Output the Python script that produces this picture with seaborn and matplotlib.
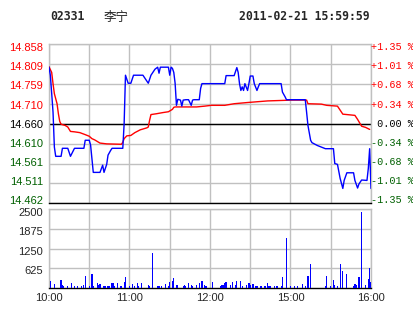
import numpy as np
import pandas as pd
import matplotlib
matplotlib.use("Agg")
import matplotlib.pyplot as plt
import matplotlib.transforms as mtransforms
import seaborn as sns

# ---------------- data ----------------
stock_code = "02331"
stock_name = "李宁"
stamp = "2011-02-21 15:59:59"
prev_close = 14.660
price_low, price_high = 14.462, 14.858

left_labels = ["14.462", "14.511", "14.561", "14.610", "14.660",
               "14.710", "14.759", "14.809", "14.858"]
right_labels = ["-1.35 %", "-1.01 %", "-0.68 %", "-0.34 %", " 0.00 %",
                "+0.34 %", "+0.68 %", "+1.01 %", "+1.35 %"]
time_labels = {0: "10:00", 60: "11:00", 120: "12:00", 180: "15:00", 240: "16:00"}
vol_labels = ["625", "1250", "1875", "2500"]
vol_ticks = [625, 1250, 1875, 2500]

price_min = [0, 1, 2, 3, 4, 5, 9, 10, 14, 16, 19, 26, 27, 30, 31, 33, 38, 40, 41, 43,
             44, 46, 47, 55, 56, 57, 59, 61, 63, 70, 74, 76, 79, 81, 82, 83, 89, 90,
             91, 92, 93, 94, 95, 96, 98, 99, 100, 102, 104, 106, 107, 108, 112, 113,
             114, 131, 132, 138, 140, 141, 142, 143, 144, 145, 146, 148, 149, 150,
             152, 153, 155, 156, 157, 173, 174, 176, 177, 191, 192, 193, 195, 196,
             200, 206, 212, 213, 215, 217, 219, 220, 222, 227, 228, 230, 231, 233,
             237, 238, 239, 240]
price_val = [14.801, 14.781, 14.736, 14.689, 14.602, 14.579, 14.579, 14.599, 14.599,
             14.579, 14.599, 14.599, 14.619, 14.619, 14.607, 14.539, 14.539, 14.557,
             14.539, 14.559, 14.582, 14.594, 14.599, 14.599, 14.660, 14.781, 14.761,
             14.761, 14.781, 14.781, 14.761, 14.781, 14.796, 14.801, 14.786, 14.801,
             14.801, 14.781, 14.801, 14.798, 14.788, 14.761, 14.706, 14.721, 14.719,
             14.704, 14.719, 14.720, 14.720, 14.706, 14.719, 14.720, 14.720, 14.748,
             14.760, 14.760, 14.780, 14.780, 14.800, 14.788, 14.760, 14.743, 14.752,
             14.743, 14.760, 14.743, 14.760, 14.779, 14.779, 14.760, 14.743, 14.752,
             14.760, 14.760, 14.739, 14.727, 14.720, 14.720, 14.689, 14.656, 14.619,
             14.613, 14.606, 14.598, 14.598, 14.561, 14.559, 14.524, 14.499, 14.519,
             14.538, 14.538, 14.519, 14.500, 14.510, 14.520, 14.519, 14.549, 14.598,
             14.499]

avg_min = [0, 2, 3, 4, 6, 7, 8, 9, 12, 14, 16, 19, 23, 27, 30, 32, 34, 38, 43, 54,
           55, 56, 58, 61, 64, 68, 73, 74, 75, 76, 80, 85, 89, 92, 93, 94, 110, 116,
           121, 131, 138, 148, 163, 181, 192, 193, 203, 207, 215, 217, 219, 228, 230,
           233, 236, 239]
avg_val = [14.802, 14.788, 14.760, 14.735, 14.710, 14.685, 14.666, 14.659, 14.656,
           14.652, 14.641, 14.640, 14.638, 14.633, 14.629, 14.623, 14.620, 14.612,
           14.610, 14.609, 14.614, 14.623, 14.630, 14.631, 14.638, 14.645, 14.650,
           14.652, 14.669, 14.683, 14.685, 14.688, 14.690, 14.696, 14.701, 14.702,
           14.702, 14.704, 14.706, 14.706, 14.710, 14.713, 14.717, 14.719, 14.719,
           14.710, 14.709, 14.706, 14.704, 14.694, 14.684, 14.681, 14.671, 14.654,
           14.651, 14.646]

vol_min = [1, 4, 9, 10, 11, 14, 17, 19, 21, 24, 26, 27, 30, 32, 33, 36, 37, 38, 41, 42,
           44, 45, 47, 48, 49, 51, 53, 54, 56, 57, 60, 62, 64, 66, 67, 69, 74, 75, 77,
           81, 82, 84, 87, 89, 90, 92, 93, 95, 96, 100, 101, 102, 104, 106, 107, 110,
           112, 114, 116, 117, 122, 128, 129, 130, 131, 132, 135, 137, 139, 140, 143,
           144, 147, 149, 150, 152, 154, 155, 158, 161, 163, 164, 165, 168, 170, 173,
           174, 177, 180, 183, 185, 189, 191, 193, 195, 206, 207, 210, 212, 213, 215,
           217, 219, 222, 227, 228, 229, 231, 233, 236, 238, 239, 240]
vol_val = [232, 137, 264, 105, 74, 74, 158, 74, 74, 74, 105, 390, 74, 454, 74, 158,
           105, 127, 74, 74, 74, 74, 158, 158, 74, 158, 74, 74, 211, 348, 74, 127, 74,
           158, 74, 158, 105, 74, 1108, 74, 74, 74, 137, 74, 211, 232, 316, 105, 105,
           74, 105, 74, 158, 105, 74, 105, 179, 232, 105, 74, 200, 74, 105, 105, 158,
           200, 105, 200, 105, 232, 232, 74, 105, 158, 105, 127, 74, 74, 74, 74, 158,
           74, 74, 74, 74, 74, 348, 1582, 74, 74, 74, 127, 74, 390, 770, 74, 390, 74,
           264, 105, 74, 770, 548, 454, 74, 127, 105, 348, 2416, 105, 295, 633, 211]

# ---------------- style ----------------
sns.set_style("white")
plt.rcParams["font.family"] = ["Liberation Sans", "DejaVu Sans"]

RED = "#ff0000"
GREEN = "#006000"
BLUE = "#0000ff"
GRID = "#c0c0c0"

W, H = 414, 314
fig = plt.figure(figsize=(W / 100, H / 100), dpi=100)
fig.patch.set_facecolor("white")

def rect(l, t, r, b):
    return [l / W, 1 - b / H, (r - l) / W, (b - t) / H]

def shift(px):
    return mtransforms.ScaledTranslation(0, px / 100, fig.dpi_scale_trans)

ax = fig.add_axes(rect(49, 44.3, 371, 203.3))
axv = fig.add_axes(rect(49, 209, 371, 288.3))

price_df = pd.DataFrame({"minute": price_min, "price": price_val})
avg_df = pd.DataFrame({"minute": avg_min, "avg": avg_val})
vol_df = pd.DataFrame({"minute": vol_min, "vol": vol_val})

xt = list(range(0, 241, 30))
xlab = [time_labels.get(m, "") for m in xt]

# ---- price panel ----
yt = np.linspace(price_low, price_high, 9)
for v in yt:
    ax.axhline(v, color=GRID, lw=1, zorder=0)
for m in xt:
    ax.axvline(m, color=GRID, lw=1, zorder=0)
ax.axhline(prev_close, color="black", lw=1, zorder=1)

sns.lineplot(data=avg_df, x="minute", y="avg", color=RED, lw=1.0, ax=ax,
             estimator=None, sort=False, zorder=3)
sns.lineplot(data=price_df, x="minute", y="price", color=BLUE, lw=1.0, ax=ax,
             estimator=None, sort=False, zorder=4)

ax.set_xlim(0, 240)
ax.set_ylim(price_low, price_high)
ax.set_xticks(xt)
ax.set_xticklabels([])
ax.set_yticks(yt)
ax.set_yticklabels(left_labels)
ax.set_xlabel("")
ax.set_ylabel("")
ax.tick_params(axis="both", length=0, pad=4.5)
ax.tick_params(axis="y", labelsize=8)

# labels spread slightly tighter than grid lines (as in the reference)
offs = [3.3 - 6.3 * j / 8 for j in range(9)]
for j, lab in enumerate(ax.get_yticklabels()):
    lab.set_color(GREEN if j < 4 else ("black" if j == 4 else RED))
    lab.set_transform(lab.get_transform() + shift(offs[j]))

bt = mtransforms.blended_transform_factory(ax.transAxes, ax.transData)
for j, (v, t) in enumerate(zip(yt, right_labels)):
    c = GREEN if j < 4 else ("black" if j == 4 else RED)
    ax.text(1.0, v, t, transform=bt + shift(offs[j]), ha="left", va="center", color=c,
            fontsize=7.3, family=["Liberation Mono", "DejaVu Sans Mono"], clip_on=False)

for s in ["top", "left", "right"]:
    ax.spines[s].set_color(GRID)
    ax.spines[s].set_linewidth(1)
ax.spines["bottom"].set_color("black")
ax.spines["bottom"].set_linewidth(1)

# ---- volume panel ----
for v in vol_ticks:
    axv.axhline(v, color=GRID, lw=1, zorder=0)
for m in xt:
    axv.axvline(m, color=GRID, lw=1, zorder=0)
sns.barplot(data=vol_df, x="minute", y="vol", native_scale=True, color=BLUE,
            saturation=1, width=0.9, linewidth=0, errorbar=None, ax=axv, zorder=3)
for p in axv.patches:
    p.set_antialiased(False)
axv.set_xlim(0, 240)
axv.set_ylim(0, 2500)
axv.set_xticks(xt)
axv.set_xticklabels(xlab)
axv.set_yticks(vol_ticks)
axv.set_yticklabels(vol_labels)
axv.set_xlabel("")
axv.set_ylabel("")
axv.tick_params(axis="both", length=0, labelsize=8)
axv.tick_params(axis="y", pad=4.5)
axv.tick_params(axis="x", pad=3.5)
voffs = [-2.0, -2.2, -2.4, -3.2]
for j, lab in enumerate(axv.get_yticklabels()):
    lab.set_transform(lab.get_transform() + shift(voffs[j]))
for s in ["top", "left", "right"]:
    axv.spines[s].set_color(GRID)
    axv.spines[s].set_linewidth(1)
axv.spines["bottom"].set_color("black")
axv.spines["bottom"].set_linewidth(1)

# ---- header ----
mono_b = dict(family=["DejaVu Sans Mono", "DejaVu Sans"], fontweight="bold", fontsize=8.3)
fig.text(50 / W, 1 - 17 / H, stock_code, ha="left", va="center", **mono_b)
fig.text(104 / W, 1 - 17 / H, stock_name, ha="left", va="center",
         family=["Noto Sans CJK SC", "DejaVu Sans"], fontsize=9)
fig.text(370 / W, 1 - 17 / H, stamp, ha="right", va="center", **mono_b)

fig.savefig("out.png", dpi=100)
